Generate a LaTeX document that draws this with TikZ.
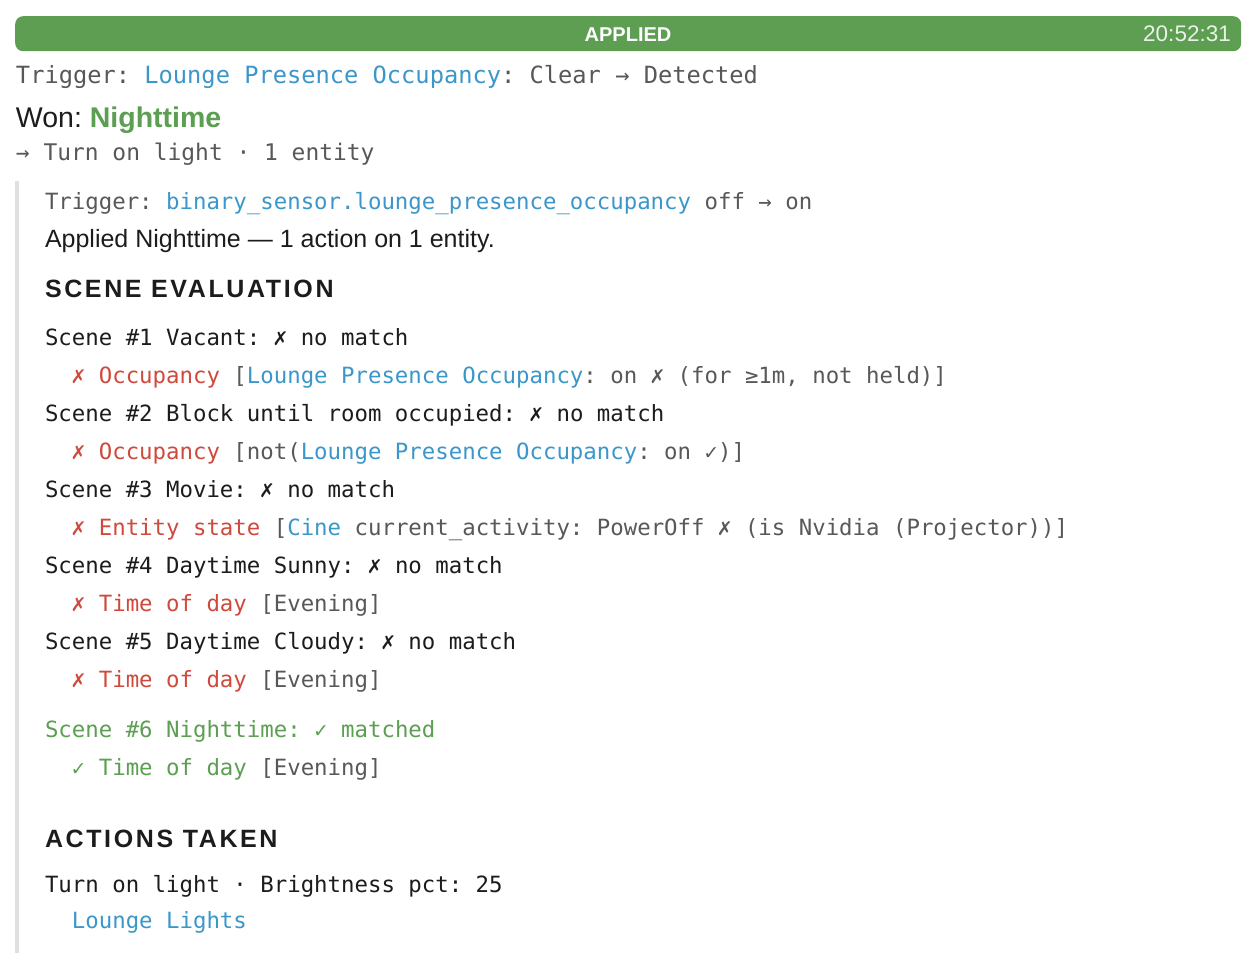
\documentclass[tikz,border=0pt]{standalone}
\usepackage{fontspec}
\setmainfont{Liberation Sans}
\newfontfamily\monof{DejaVu Sans Mono}
\newfontfamily\dvsf{DejaVu Sans}
\newfontfamily\headf[LetterSpace=10.5]{Liberation Sans}
\definecolor{barg}{RGB}{94,158,83}
\definecolor{tgray}{RGB}{88,88,88}
\definecolor{lblue}{RGB}{59,151,201}
\definecolor{tred}{RGB}{207,73,60}
\definecolor{tgreen}{RGB}{92,158,82}
\definecolor{tblack}{RGB}{28,28,28}
\definecolor{lbar}{RGB}{224,224,224}
\definecolor{timec}{RGB}{232,242,230}
\newcommand\mk[1]{\makebox[0.602em][c]{\scalebox{0.85}{\dvsf #1}}}
\newcommand\ind{\hspace*{1.204em}}
\newcommand\xx{\mk{✗}}
\newcommand\ck{\mk{✓}}
\frenchspacing
\begin{document}
\begin{tikzpicture}[x=1pt,y=-1pt,
  txt/.style={anchor=base west, inner sep=0pt, outer sep=0pt},
  mono/.style={txt, font=\monof\frenchspacing\fontsize{22.36}{26}\selectfont, text=tblack},
  monog/.style={mono, text=tgray},
  head/.style={txt, font=\headf\bfseries\fontsize{25}{29}\selectfont, text=tblack},
  sans/.style={txt, font=\fontsize{25}{29}\selectfont, text=tblack}]
\useasboundingbox (0,0) rectangle (1256,972);
\fill[white] (0,0) rectangle (1256,972);
% header bar
\node[fill=barg, rounded corners=8pt, minimum width=1226pt, minimum height=35pt,
      anchor=north west, inner sep=0pt] (bar) at (15,16) {};
\node[anchor=base, inner sep=0pt, text=white, font=\bfseries\fontsize{20}{24}\selectfont] (applied) at (628,41) {APPLIED};
\node[anchor=base east, inner sep=0pt, text=timec, font=\fontsize{22.5}{26}\selectfont] (time) at (1231,41) {20:52:31};
% left quote bar
\fill[lbar] (15,181) rectangle (19,953);
% summary
\node[monog, font=\monof\frenchspacing\fontsize{23.7}{28}\selectfont] (trig) at (16,83)
  {Trigger: \textcolor{lblue}{Lounge Presence Occupancy}: Clear → Detected};
\node[txt, font=\fontsize{28.5}{32}\selectfont, text=tblack] (won) at (16,127)
  {Won: \textcolor{tgreen}{\bfseries Nighttime}};
\node[monog, font=\monof\frenchspacing\fontsize{22.9}{27}\selectfont] (turn) at (16,160)
  {→ Turn on light · 1 entity};
% detail
\node[monog] (trig2) at (45,209)
  {Trigger: \textcolor{lblue}{binary\_sensor.lounge\_presence\_occupancy} off → on};
\node[sans] (appl) at (45,247) {Applied Nighttime — 1 action on 1 entity.};
\node[head] (sceneh) at (45,297) {SCENE EVALUATION};
\node[mono] (s1) at (45,345) {Scene \#1 Vacant: \xx{} no match};
\node[monog] (c1) at (45,383) {\ind\textcolor{tred}{\xx{} Occupancy} [\textcolor{lblue}{Lounge Presence Occupancy}: on \xx{} (for ≥1m, not held)]};
\node[mono] (s2) at (45,421) {Scene \#2 Block until room occupied: \xx{} no match};
\node[monog] (c2) at (45,459) {\ind\textcolor{tred}{\xx{} Occupancy} [not(\textcolor{lblue}{Lounge Presence Occupancy}: on \ck)]};
\node[mono] (s3) at (45,497) {Scene \#3 Movie: \xx{} no match};
\node[monog] (c3) at (45,535) {\ind\textcolor{tred}{\xx{} Entity state} [\textcolor{lblue}{Cine} current\_activity: PowerOff \xx{} (is Nvidia (Projector))]};
\node[mono] (s4) at (45,573) {Scene \#4 Daytime Sunny: \xx{} no match};
\node[monog] (c4) at (45,611) {\ind\textcolor{tred}{\xx{} Time of day} [Evening]};
\node[mono] (s5) at (45,649) {Scene \#5 Daytime Cloudy: \xx{} no match};
\node[monog] (c5) at (45,687) {\ind\textcolor{tred}{\xx{} Time of day} [Evening]};
\node[mono, text=tgreen] (s6) at (45,737) {Scene \#6 Nighttime: \ck{} matched};
\node[monog] (c6) at (45,775) {\ind\textcolor{tgreen}{\ck{} Time of day} [Evening]};
\node[head] (acth) at (45,847) {ACTIONS TAKEN};
\node[mono] (act) at (45,892) {Turn on light · Brightness pct: 25};
\node[mono, text=lblue] (ent) at (45,928) {\ind Lounge Lights};
\end{tikzpicture}
\end{document}
